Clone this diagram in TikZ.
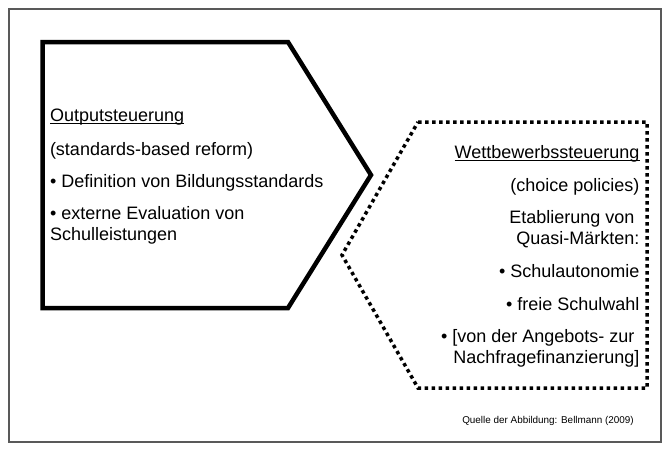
\documentclass[tikz,border=0pt]{standalone}
\usepackage{fontspec}
\setmainfont{Liberation Sans}
\begin{document}
\begin{tikzpicture}[x=1pt,y=-1pt,
  txt/.style={inner sep=0pt,outer sep=0pt,font=\fontsize{18}{21}\selectfont},
  lefttxt/.style={txt,anchor=base west},
  righttxt/.style={txt,anchor=base east},
  solidshape/.style={line width=4.5pt,line join=miter},
  dottedshape/.style={line width=3.5pt,dash pattern=on 3.5pt off 3.5pt,line join=miter},
  uline/.style={line width=1.2pt},
  framebox/.style={draw=black!65,line width=1.2pt}]
\useasboundingbox (0,0) rectangle (669,448);
\draw[framebox] (9,9) rectangle (661,442);
% left pentagon
\coordinate (a1) at (42.5,42);
\coordinate (a2) at (288,42);
\coordinate (a3) at (371,175);
\coordinate (a4) at (288,308);
\coordinate (a5) at (42.5,308);
\draw[solidshape] (a1) -- (a2) -- (a3) -- (a4) -- (a5) -- cycle;
% right dotted shape
\coordinate (b1) at (418,122);
\coordinate (b2) at (647,122);
\coordinate (b3) at (647,388);
\coordinate (b4) at (418,388);
\coordinate (b5) at (342,255);
\draw[dottedshape] (b1) -- (b2) -- (b3) -- (b4) -- (b5) -- cycle;
% left texts
\node[lefttxt] (l1) at (50,121.7) {Outputsteuerung};
\draw[uline] ([yshift=-1.8pt]l1.base west) -- ([yshift=-1.8pt]l1.base east);
\node[lefttxt] (l2) at (50,155) {(standards-based reform)};
\node[lefttxt] (l3) at (50,187.3) {• Definition von Bildungsstandards};
\node[lefttxt] (l4) at (50,219.3) {• externe Evaluation von};
\node[lefttxt] (l5) at (50,240.3) {Schulleistungen};
% right texts
\node[righttxt] (r1) at (639.5,158.5) {Wettbewerbssteuerung};
\draw[uline] ([yshift=-1.8pt]r1.base west) -- ([yshift=-1.8pt]r1.base east);
\node[righttxt] (r2) at (639.5,191.5) {(choice policies)};
\node[righttxt] (r3) at (634.5,223.5) {Etablierung von};
\node[righttxt] (r4) at (639.5,244.5) {Quasi-Märkten:};
\node[righttxt] (r5) at (639.5,277.5) {• Schulautonomie};
\node[righttxt] (r6) at (639.5,310) {• freie Schulwahl};
\node[righttxt] (r7) at (634.5,342.5) {• [von der Angebots- zur};
\node[righttxt] (r8) at (639.5,363.5) {Nachfragefinanzierung]};
% source
\node[inner sep=0pt,anchor=base east,font=\fontsize{9.9}{12}\selectfont] (src) at (634,423) {Quelle der Abbildung: Bellmann (2009)};
\end{tikzpicture}
\end{document}
